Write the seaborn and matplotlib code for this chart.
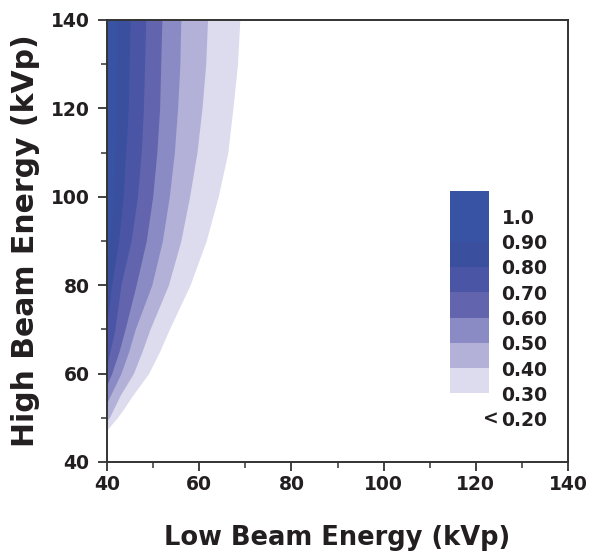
import numpy as np
import matplotlib
matplotlib.use("Agg")
import matplotlib.pyplot as plt
from matplotlib.colors import ListedColormap
from matplotlib.ticker import MultipleLocator
import seaborn as sns

# contour boundaries: (high kVp, low kVp) pairs per level
level_names = ["0.30", "0.40", "0.50", "0.60", "0.70", "0.80", "0.90"]
b030_y = [47.3, 50, 52, 55, 60, 65, 70, 80, 90, 100, 110, 120, 130, 140]
b030_x = [40.0, 42.2, 43.6, 45.5, 49.0, 51.4, 53.5, 58.0, 61.5, 64.1, 66.2, 67.3, 68.3, 68.8]
b040_y = [49.5, 50, 55, 60, 65, 70, 80, 90, 100, 110, 120, 130, 140]
b040_x = [40.0, 40.5, 42.8, 45.7, 47.6, 49.3, 53.3, 56.0, 57.9, 59.5, 60.6, 61.4, 61.8]
b050_y = [53.5, 55, 60, 65, 70, 80, 90, 100, 110, 120, 130, 140]
b050_x = [40.0, 40.7, 43.0, 44.7, 46.1, 49.7, 52.0, 53.5, 54.6, 55.3, 55.8, 56.0]
b060_y = [57.5, 60, 65, 70, 80, 90, 100, 110, 120, 140]
b060_x = [40.0, 41.0, 42.6, 43.9, 46.3, 48.5, 49.9, 50.8, 51.4, 51.9]
b070_y = [62, 70, 80, 90, 100, 110, 120, 140]
b070_x = [40.0, 41.7, 43.0, 45.2, 46.6, 47.4, 47.9, 48.4]
b080_y = [72, 80, 90, 100, 120, 140]
b080_x = [40.0, 41.0, 42.5, 43.5, 44.6, 45.0]
b090_y = [85, 100, 120, 140]
b090_x = [40.0, 41.5, 42.0, 42.1]

band_colors = ["#dddcee", "#b3b1d8", "#8a8bc4", "#6265ad", "#4a56a5", "#3b4f9f", "#3853a3"]
legend_labels = ["1.0", "0.90", "0.80", "0.70", "0.60", "0.50", "0.40", "0.30", "0.20"]

sns.set_style("ticks")
plt.rcParams["font.family"] = ["DejaVu Sans"]
plt.rcParams["font.weight"] = "bold"
txt = "#231f20"

fig = plt.figure(figsize=(5.9, 5.56), dpi=100)
ax = fig.add_axes([0.1814, 0.1691, 0.7814, 0.795])

bounds = [(b030_y, b030_x), (b040_y, b040_x), (b050_y, b050_x), (b060_y, b060_x),
          (b070_y, b070_x), (b080_y, b080_x), (b090_y, b090_x)]
for (yy, xx), col in zip(bounds, band_colors):
    ax.fill_betweenx(yy, 40, xx, color=col, lw=0)

ax.set_xlim(40, 140)
ax.set_ylim(40, 140)
ax.xaxis.set_major_locator(MultipleLocator(20))
ax.xaxis.set_minor_locator(MultipleLocator(10))
ax.yaxis.set_major_locator(MultipleLocator(20))
ax.yaxis.set_minor_locator(MultipleLocator(10))
ax.tick_params(which="major", direction="out", length=6.5, width=1.3, color="#333333",
               labelsize=13.5, labelcolor=txt, pad=3)
ax.tick_params(which="minor", direction="out", length=4, width=1.1, color="#333333")
ax.tick_params(axis="y", pad=6)
for s in ax.spines.values():
    s.set_color("#333333")
    s.set_linewidth(1.4)

ax.set_xlabel("Low Beam Energy (kVp)", fontsize=18.5, fontweight="bold", color=txt, labelpad=22)
ax.set_ylabel("High Beam Energy (kVp)", fontsize=21.5, fontweight="bold", color=txt, labelpad=8)

# legend bar drawn as a small heatmap
lax = fig.add_axes([0.7627, 0.2469, 0.0661, 0.4095])
leg_cols = [band_colors[-1]] + band_colors[::-1] + ["#ffffff"]
sns.heatmap(np.arange(9).reshape(9, 1), cmap=ListedColormap(leg_cols), cbar=False,
            ax=lax, xticklabels=False, yticklabels=False)
lax.set_yticks(np.arange(1, 10))
lax.set_yticklabels(legend_labels, fontsize=13.5, fontweight="bold", color=txt)
lax.yaxis.tick_right()
lax.tick_params(axis="y", length=0, pad=9)
for s in lax.spines.values():
    s.set_visible(False)
lax.text(1.05, 9, "<", fontsize=13.5, fontweight="bold", color=txt,
         ha="center", va="center", transform=lax.transData)

fig.savefig("out.png", dpi=100)
